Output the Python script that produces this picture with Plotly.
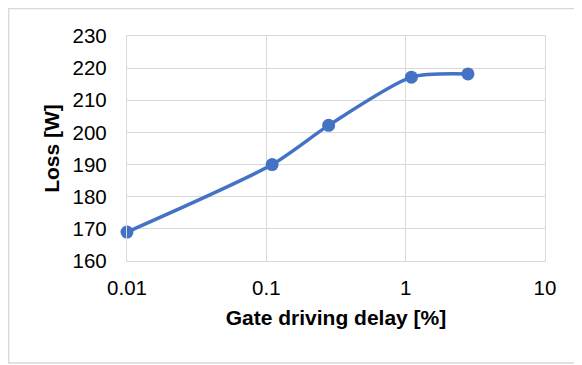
import plotly.graph_objects as go

delay_pct = [0.01, 0.11, 0.28, 1.1, 2.8]
loss_w = [169, 190, 202.2, 217.2, 218.2]

x_tickvals = [0.01, 0.1, 1, 10]
x_ticktext = ["0.01", "0.1", "1", "10"]
y_tickvals = [160, 170, 180, 190, 200, 210, 220, 230]

# page body has an 8px default margin; compensate
OFF = 8
W, H = 582 - OFF, 365 - OFF
L, R, T, B = 127 - OFF, 545 - OFF, 36 - OFF, 261 - OFF
pw, ph = R - L, B - T

def px_x(p):
    return (p - OFF - L) / pw

def px_y(p):
    return (B - (p - OFF)) / ph

fig = go.Figure()
fig.add_trace(go.Scatter(
    x=delay_pct, y=loss_w, mode="lines+markers",
    line=dict(color="#4472C4", width=3.5, shape="spline", smoothing=0.7),
    marker=dict(color="#4472C4", size=13),
    showlegend=False, cliponaxis=False,
))

fig.add_shape(type="rect", xref="paper", yref="paper",
              x0=px_x(8.7), x1=px_x(575), y0=px_y(363), y1=px_y(8.7),
              line=dict(color="#D9D9D9", width=1.3), layer="below")

font = dict(family="Liberation Sans, Arial, sans-serif", size=20.5, color="#000000")

fig.update_layout(
    width=W, height=H,
    margin=dict(l=L, r=W - R, t=T, b=H - B, autoexpand=False),
    paper_bgcolor="white", plot_bgcolor="white",
    font=font,
    xaxis=dict(
        type="log", range=[-2, 1],
        tickvals=x_tickvals, ticktext=x_ticktext,
        showgrid=True, gridcolor="#D9D9D9", gridwidth=1.3,
        showline=True, linecolor="#D9D9D9", linewidth=1.3, mirror=True,
        ticks="", ticklabelstandoff=8, zeroline=False,
        title=dict(text="<b>Gate driving delay [%]</b>", standoff=12,
                   font=dict(size=21)),
    ),
    yaxis=dict(
        range=[160, 230], tickvals=y_tickvals,
        showgrid=True, gridcolor="#D9D9D9", gridwidth=1.3,
        showline=True, linecolor="#D9D9D9", linewidth=1.3, mirror=True,
        ticks="", ticklabelstandoff=15, zeroline=False,
        title=dict(text="<b>Loss [W]</b>", standoff=7, font=dict(size=21)),
    ),
)

fig.write_html("out.html")
